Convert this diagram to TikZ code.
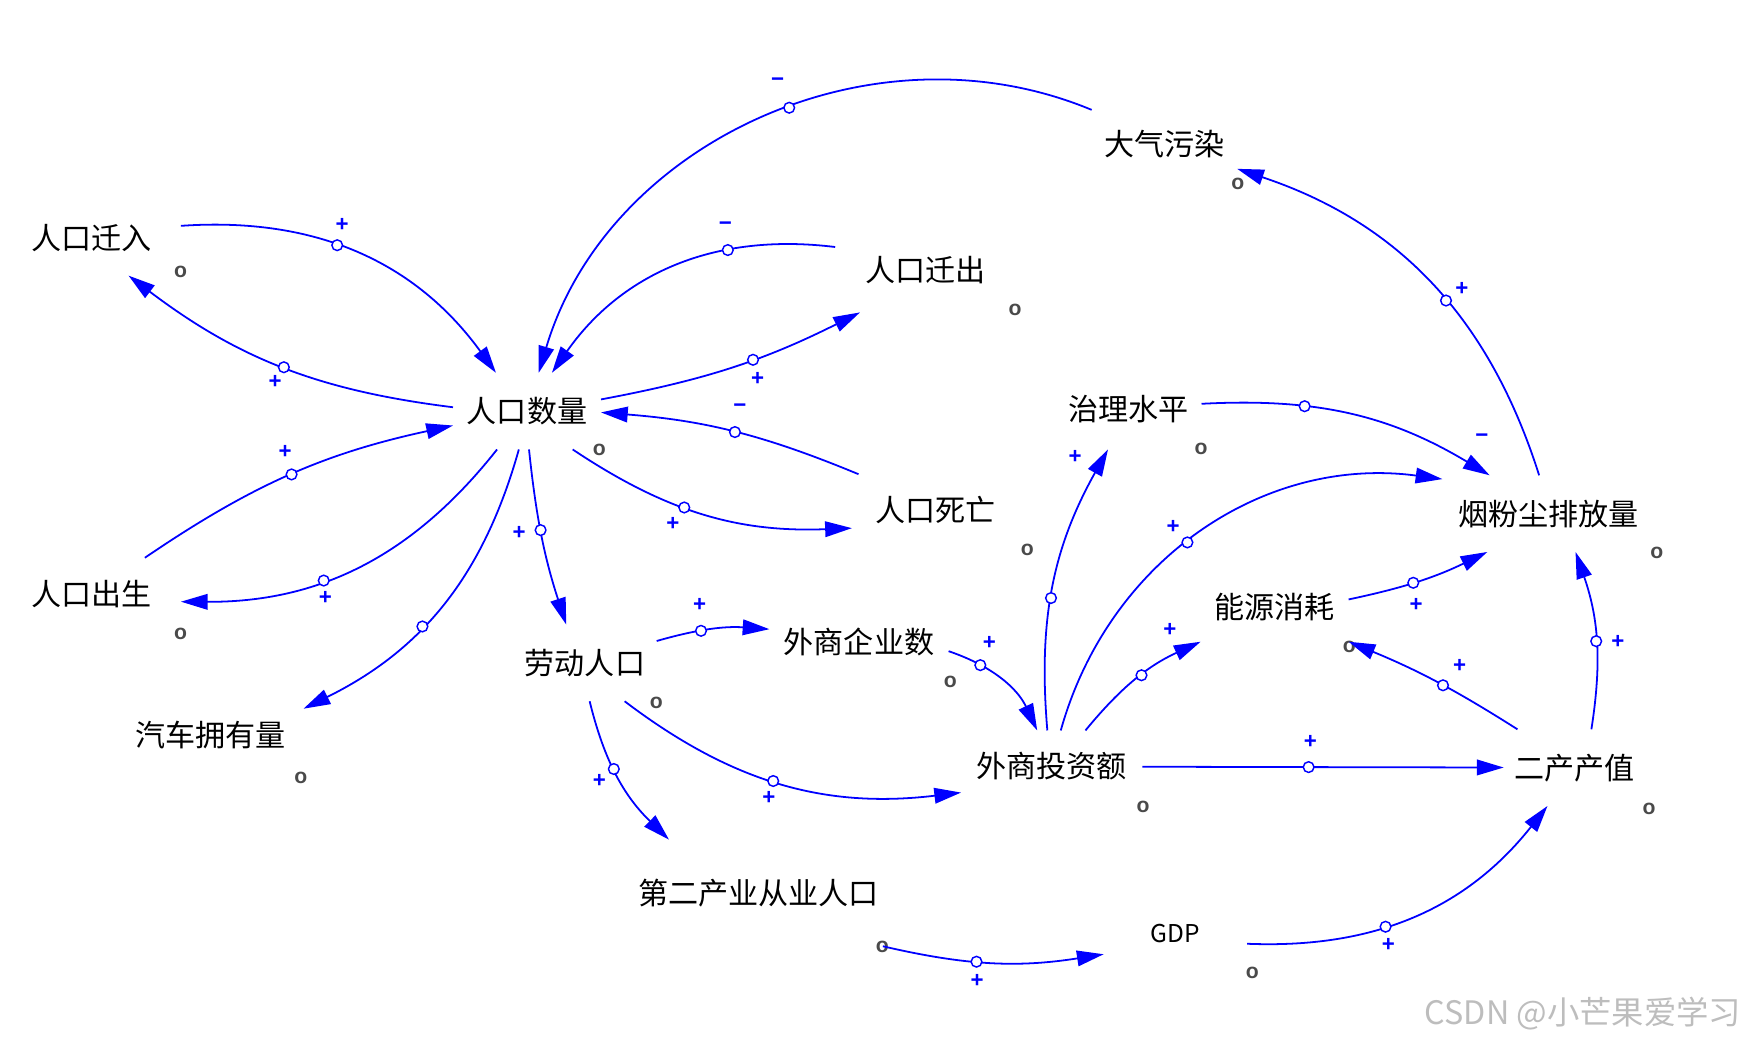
\documentclass[tikz,border=0pt]{standalone}
\usepackage{fontspec}
\usetikzlibrary{arrows.meta}
\newfontfamily\cjk{Noto Sans CJK SC}
\newfontfamily\signfont{Liberation Sans}
\definecolor{linkblue}{HTML}{0000FF}
\definecolor{markgray}{HTML}{4A4A4A}
\definecolor{wmgray}{HTML}{BDBDBD}

\begin{document}
\begin{tikzpicture}[x=0.5pt, y=0.5pt,
  var/.style={inner sep=0pt, font=\cjk\fontsize{13.5pt}{13.5pt}\selectfont},
  link/.style={draw=linkblue, line width=0.8pt, -{Triangle[length=12pt,width=7pt]}},
  hdl/.style={circle, draw=linkblue, fill=white, line width=0.65pt, inner sep=0pt, minimum size=4.8pt},
  sgn/.style={text=linkblue, font=\signfont\bfseries\fontsize{10pt}{10pt}\selectfont, inner sep=0pt},
  mk/.style={text=markgray, font=\signfont\bfseries\fontsize{9.5pt}{9.5pt}\selectfont, inner sep=0pt}]
  \useasboundingbox (0,0) rectangle (1568,-937);

  % variables
  \node[var, minimum width=80pt, minimum height=33pt] (pin) at (82,-214) {人口迁入};
  \node[var, minimum width=66pt, minimum height=34pt] (pop) at (473,-369) {人口数量};
  \node[var, minimum width=81pt, minimum height=38pt] (pout) at (831,-242) {人口迁出};
  \node[var, minimum width=65pt, minimum height=30pt] (air) at (1045,-129) {大气污染};
  \node[var, minimum width=75pt, minimum height=32pt] (pdie) at (840,-458) {人口死亡};
  \node[var, minimum width=80pt, minimum height=32pt] (pbirth) at (82,-533) {人口出生};
  \node[var, minimum width=83pt, minimum height=30pt] (car) at (189,-660) {汽车拥有量};
  \node[var, minimum width=64pt, minimum height=34pt] (labor) at (525,-595) {劳动人口};
  \node[var, minimum width=80pt, minimum height=32pt] (fent) at (771,-576) {外商企业数};
  \node[var, minimum width=111pt, minimum height=48pt] (sec) at (681,-802) {第二产业从业人口};
  \node[var, minimum width=81pt, minimum height=32pt] (fdi) at (944,-688) {外商投资额};
  \node[var, minimum width=65pt, minimum height=36pt] (gov) at (1013,-367) {治理水平};
  \node[var, minimum width=95pt, minimum height=34pt] (dust) at (1390,-461) {烟粉尘排放量};
  \node[var, minimum width=66pt, minimum height=31pt] (energy) at (1144,-545) {能源消耗};
  \node[var, minimum width=63pt, minimum height=34pt] (ind) at (1413,-689) {二产产值};
  \node[var, minimum width=64pt, minimum height=30pt, font=\cjk\fontsize{11pt}{11pt}\selectfont] (gdp) at (1055,-838) {GDP};

  % small marks
  \node[mk] (m1) at (162,-244) {o};
  \node[mk] (m2) at (538,-404) {o};
  \node[mk] (m3) at (911,-278) {o};
  \node[mk] (m4) at (1111,-165) {o};
  \node[mk] (m5) at (922,-494) {o};
  \node[mk] (m6) at (162,-569) {o};
  \node[mk] (m7) at (270,-698) {o};
  \node[mk] (m8) at (589,-631) {o};
  \node[mk] (m9) at (853,-612) {o};
  \node[mk] (m10) at (1026,-724) {o};
  \node[mk] (m11) at (1078,-403) {o};
  \node[mk] (m12) at (1487,-496) {o};
  \node[mk] (m13) at (1211,-581) {o};
  \node[mk] (m14) at (1480,-726) {o};
  \node[mk] (m15) at (1124,-873) {o};
  \node[mk] (m16) at (792,-850) {o};

  % links
  \draw[link] (pin.8) to[bend left=29] node[hdl,pos=.43] (h1) {} (pop.129);
  \draw[link] (pop.177) to[bend left=15] node[hdl,pos=.49] (h2) {} (pin.315);
  \draw[link] (air.155) to[bend right=48] node[hdl,pos=.45] (h3) {} (pop.73);
  \draw[link] (pout.166) to[bend right=31] node[hdl,pos=.32] (h4) {} (pop.57);
  \draw[link] (pop.9) to[bend right=8] node[hdl,pos=.58] (h5) {} (pout.213);
  \draw[link] (pdie.155) to[bend right=9] node[hdl,pos=.49] (h6) {} (pop.359);
  \draw[link] (pop.320) to[bend right=18] node[hdl,pos=.42] (h7) {} (pdie.192);
  \draw[link] (pbirth.34) to[bend left=11] node[hdl,pos=.5] (h8) {} (pop.191);
  \draw[link] (pop.232) to[bend left=26] node[hdl,pos=.61] (h9) {} (pbirth.355);
  \draw[link] (pop.258) to[bend left=24] node[hdl,pos=.59] (h10) {} (car.16);
  \draw[link] (pop.273) to[bend right=6] node[hdl,pos=.45] (h11) {} (labor.116);
  \draw[link] (labor.17) to[bend left=10] node[hdl,pos=.39] (h12) {} (fent.172);
  \draw[link] (labor.316) to[bend right=22] node[hdl,pos=.47] (h13) {} (fdi.196);
  \draw[link] (labor.277) to[bend right=16] node[hdl,pos=.44] (h14) {} (sec.149);
  \draw[link] (fent.354) to[bend left=23] node[hdl,pos=.27] (h15) {} (fdi.112);
  \draw[link] (fdi.97) to[bend left=17] node[hdl,pos=.45] (h16) {} (gov.243);
  \draw[link] (fdi.76) to[bend left=41] node[hdl,pos=.46] (h17) {} (dust.162);
  \draw[link] (fdi.47) to[bend left=13] node[hdl,pos=.54] (h18) {} (energy.205);
  \draw[link] (fdi) -- node[hdl,pos=.46] (h19) {} (ind);
  \draw[link] (gov.4) to[bend left=17] node[hdl,pos=.33] (h20) {} (dust.147);
  \draw[link] (dust.104) to[bend right=27] node[hdl,pos=.44] (h21) {} (air.341);
  \draw[link] (energy.6) to[bend right=7] node[hdl,pos=.45] (h22) {} (dust.212);
  \draw[link] (ind.146) to[bend right=5] node[hdl,pos=.45] (h23) {} (energy.335);
  \draw[link] (ind.66) to[bend right=14] node[hdl,pos=.49] (h24) {} (dust.305);
  \draw[link] (sec.337) to[bend right=11] node[hdl,pos=.42] (h25) {} (gdp.196);
  \draw[link] (gdp.352) to[bend right=27] node[hdl,pos=.4] (h26) {} (ind.235);

  % polarities
  \node[sgn] (s1) at (307,-202) {+};
  \node[sgn] (s2) at (247,-343) {+};
  \node[sgn] (s3) at (698,-74) {−};
  \node[sgn] (s4) at (651,-203) {−};
  \node[sgn] (s5) at (680,-340) {+};
  \node[sgn] (s6) at (664,-366) {−};
  \node[sgn] (s7) at (604,-470) {+};
  \node[sgn] (s8) at (256,-406) {+};
  \node[sgn] (s9) at (292,-537) {+};
  \node[sgn] (s11) at (466,-478) {+};
  \node[sgn] (s12) at (628,-543) {+};
  \node[sgn] (s13) at (690,-716) {+};
  \node[sgn] (s14) at (538,-701) {+};
  \node[sgn] (s15) at (888,-577) {+};
  \node[sgn] (s16) at (965,-410) {+};
  \node[sgn] (s17) at (1053,-473) {+};
  \node[sgn] (s18) at (1050,-565) {+};
  \node[sgn] (s19) at (1176,-666) {+};
  \node[sgn] (s20) at (1330,-393) {−};
  \node[sgn] (s21) at (1312,-259) {+};
  \node[sgn] (s22) at (1271,-543) {+};
  \node[sgn] (s23) at (1310,-598) {+};
  \node[sgn] (s24) at (1452,-576) {+};
  \node[sgn] (s25) at (877,-880) {+};
  \node[sgn] (s26) at (1246,-848) {+};

  \node[anchor=east, inner sep=0pt, text=wmgray, font=\cjk\fontsize{14.5pt}{14.5pt}\selectfont] (wm) at (1563,-910) {CSDN @小芒果爱学习};
\end{tikzpicture}
\end{document}
